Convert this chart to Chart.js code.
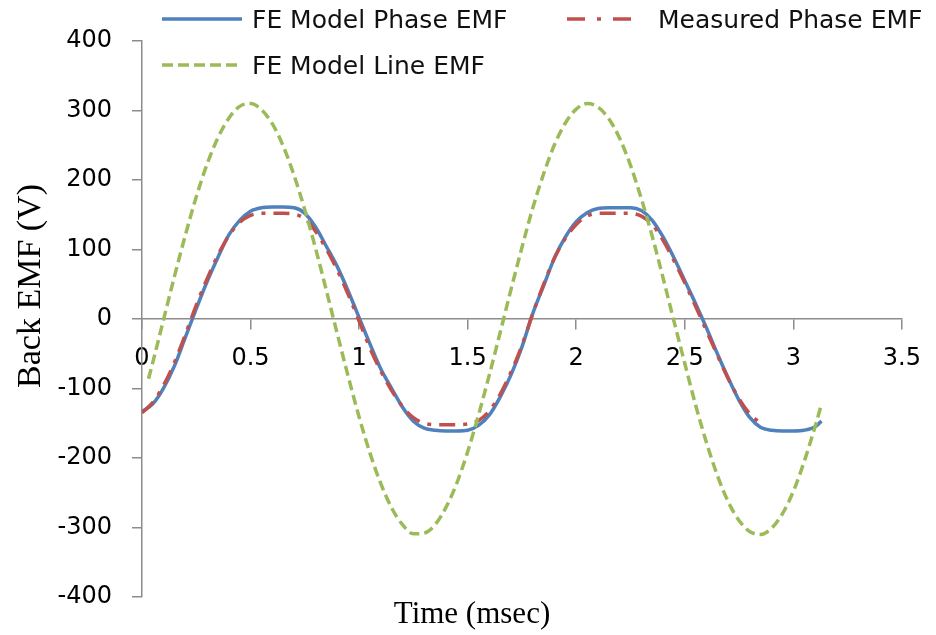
<!DOCTYPE html>
<html lang="en">
    <head>
        <meta charset="utf-8" />
        <title>Back EMF</title>
        <script src="https://cdnjs.cloudflare.com/ajax/libs/Chart.js/4.4.0/chart.umd.js"></script>
        <style>
            body {
                margin: 0;
                background: #fff;
            }
            #wrap {
                width: 936px;
                height: 635px;
                position: relative;
            }
        </style>
    </head>
    <body>
        <div id="wrap">
            <canvas id="canvas"></canvas>
        </div>
        <script>
            // time (msec) and back EMF (V)
            const phaseTime = [0, 0.05, 0.1, 0.15, 0.2, 0.25, 0.3, 0.35, 0.4, 0.45, 0.5, 0.55, 0.6, 0.65, 0.7, 0.75, 0.8, 0.85, 0.9, 0.95,
                1.0, 1.05, 1.1, 1.15, 1.2, 1.25, 1.3, 1.35, 1.4, 1.45, 1.5, 1.55, 1.6, 1.65, 1.7, 1.75, 1.8, 1.85, 1.9, 1.95,
                2.0, 2.05, 2.1, 2.15, 2.2, 2.25, 2.3, 2.35, 2.4, 2.45, 2.5, 2.55, 2.6, 2.65, 2.7, 2.75, 2.8, 2.85, 2.9, 2.95,
                3.0, 3.05, 3.1, 3.13];
            const fePhaseEmf = [-133, -122, -99, -67, -26, 15, 54, 89, 121, 142, 155, 160, 161, 161, 160, 152, 132, 104, 75, 40,
                2, -36, -72, -100, -127, -147, -157, -160, -161, -161, -160, -153, -138, -112, -80, -40, 8, 48, 88, 118,
                140, 153, 159, 160, 160, 160, 156, 142, 118, 88, 55, 22, -13, -50, -85, -117, -142, -156, -160, -161,
                -161, -160, -155, -147];

            const measuredTime = [0, 0.05, 0.1, 0.15, 0.2, 0.25, 0.3, 0.35, 0.4, 0.45, 0.5, 0.55, 0.6, 0.65, 0.7, 0.75, 0.8, 0.85, 0.9, 0.95,
                1.0, 1.05, 1.1, 1.15, 1.2, 1.25, 1.3, 1.35, 1.4, 1.45, 1.5, 1.55, 1.6, 1.65, 1.7, 1.75, 1.8, 1.85, 1.9, 1.95,
                2.0, 2.05, 2.1, 2.15, 2.2, 2.25, 2.3, 2.35, 2.4, 2.45, 2.5, 2.55, 2.6, 2.65, 2.7, 2.75, 2.8, 2.84];
            const measuredPhaseEmf = [-135, -120, -95, -62, -22, 20, 58, 92, 120, 139, 149, 152, 152, 152, 151, 144, 126, 100, 70, 35,
                -3, -42, -75, -103, -126, -142, -150, -152, -152, -152, -151, -146, -132, -108, -76, -38, 8, 50, 88, 116,
                136, 148, 152, 152, 152, 152, 148, 136, 113, 84, 52, 18, -17, -52, -86, -115, -137, -148];

            const lineTime = [0.03, 0.05, 0.1, 0.15, 0.2, 0.25, 0.3, 0.35, 0.4, 0.45, 0.5, 0.55, 0.6, 0.65, 0.7, 0.75, 0.8, 0.85, 0.9, 0.95,
                1.0, 1.05, 1.1, 1.15, 1.2, 1.25, 1.3, 1.35, 1.4, 1.45, 1.5, 1.55, 1.6, 1.65, 1.7, 1.75, 1.8, 1.85, 1.9, 1.95,
                2.0, 2.05, 2.1, 2.15, 2.2, 2.25, 2.3, 2.35, 2.4, 2.45, 2.5, 2.55, 2.6, 2.65, 2.7, 2.75, 2.8, 2.85, 2.9, 2.95,
                3.0, 3.05, 3.1, 3.13];
            const feLineEmf = [-86, -62, 0, 62, 121, 176, 223, 261, 289, 306, 310, 301, 281, 249, 207, 157, 101, 40, -22, -83,
                -141, -193, -237, -272, -296, -309, -308, -296, -271, -236, -191, -138, -80, -19, 43, 103, 160, 209, 251, 282,
                302, 310, 305, 288, 260, 221, 173, 119, 59, -3, -64, -124, -178, -225, -263, -290, -306, -310, -301, -280,
                -248, -205, -155, -122];

            const xTicks = [0, 0.5, 1, 1.5, 2, 2.5, 3, 3.5];
            const yTicks = [-400, -300, -200, -100, 0, 100, 200, 300, 400];

            function toPoints(xs, ys) {
                return xs.map((x, i) => ({ x: x, y: ys[i] }));
            }

            const axisGrey = '#8c8c8c';

            // legend and axis titles drawn by hand to follow the original placement
            const decorations = {
                id: 'decorations',
                afterDraw(chart) {
                    const ctx = chart.ctx;
                    const items = [
                        { ds: 0, x: 162, y: 19, len: 80 },
                        { ds: 1, x: 567, y: 19, len: 70 },
                        { ds: 2, x: 162, y: 65, len: 80 }
                    ];
                    ctx.save();
                    items.forEach(item => {
                        const ds = chart.data.datasets[item.ds];
                        ctx.strokeStyle = ds.borderColor;
                        ctx.lineWidth = ds.borderWidth;
                        ctx.setLineDash(ds.legendDash || []);
                        ctx.beginPath();
                        ctx.moveTo(item.x, item.y);
                        ctx.lineTo(item.x + item.len, item.y);
                        ctx.stroke();
                        ctx.setLineDash([]);
                        ctx.fillStyle = '#111';
                        ctx.font = '25px "DejaVu Sans"';
                        ctx.textBaseline = 'alphabetic';
                        ctx.textAlign = 'left';
                        ctx.fillText(ds.label, item.x + (item.ds === 1 ? 91 : 90), item.y + 9);
                    });

                    ctx.fillStyle = '#000';
                    ctx.font = '31px "Liberation Serif"';
                    ctx.textAlign = 'center';
                    ctx.fillText('Time (msec)', 472, 623);

                    ctx.translate(40, 286);
                    ctx.rotate(-Math.PI / 2);
                    ctx.font = '34px "Liberation Serif"';
                    ctx.fillText('Back EMF (V)', 0, 0);
                    ctx.restore();
                }
            };

            const chart = new Chart('canvas', {
                type: 'line',
                data: {
                    datasets: [{
                        label: 'FE Model Phase EMF',
                        data: toPoints(phaseTime, fePhaseEmf),
                        borderColor: '#4f81bd',
                        borderWidth: 3.5,
                        pointRadius: 0,
                        cubicInterpolationMode: 'monotone',
                        order: 3
                    }, {
                        label: 'Measured Phase EMF',
                        data: toPoints(measuredTime, measuredPhaseEmf),
                        borderColor: '#c0504d',
                        borderWidth: 3.5,
                        borderDash: [16, 8, 4, 8],
                        legendDash: [18, 12, 4, 12],
                        pointRadius: 0,
                        cubicInterpolationMode: 'monotone',
                        order: 2
                    }, {
                        label: 'FE Model Line EMF',
                        data: toPoints(lineTime, feLineEmf),
                        borderColor: '#9bbb59',
                        borderWidth: 3.5,
                        borderDash: [10, 5],
                        legendDash: [11, 5],
                        pointRadius: 0,
                        cubicInterpolationMode: 'monotone',
                        order: 1
                    }]
                },
                options: {
                    responsive: true,
                    maintainAspectRatio: false,
                    animation: false,
                    layout: {
                        padding: { top: 41, right: 24, bottom: 38, left: 0 }
                    },
                    plugins: {
                        legend: { display: false },
                        tooltip: { enabled: false }
                    },
                    scales: {
                        x: {
                            type: 'linear',
                            min: xTicks[0],
                            max: xTicks[xTicks.length - 1],
                            position: { y: 0 },
                            afterBuildTicks(scale) {
                                scale.ticks = xTicks.map(v => ({ value: v }));
                            },
                            grid: {
                                drawOnChartArea: false,
                                drawTicks: true,
                                tickLength: 10,
                                color: axisGrey,
                                lineWidth: 1.5
                            },
                            border: { color: axisGrey, width: 1.5 },
                            ticks: {
                                color: '#000',
                                padding: 15,
                                maxRotation: 0,
                                callback: v => String(v),
                                font: { family: 'DejaVu Sans', size: 24 }
                            }
                        },
                        y: {
                            min: yTicks[0],
                            max: yTicks[yTicks.length - 1],
                            afterBuildTicks(scale) {
                                scale.ticks = yTicks.map(v => ({ value: v }));
                            },
                            afterFit(scale) {
                                scale.width = 142;
                            },
                            grid: {
                                drawOnChartArea: false,
                                drawTicks: true,
                                tickLength: 10,
                                color: axisGrey,
                                lineWidth: 1.5
                            },
                            border: { color: axisGrey, width: 1.5 },
                            ticks: {
                                color: '#000',
                                padding: 20,
                                callback: v => String(v),
                                font: { family: 'DejaVu Sans', size: 24 }
                            }
                        }
                    }
                },
                plugins: [decorations]
            });
        </script>
    </body>
</html>
